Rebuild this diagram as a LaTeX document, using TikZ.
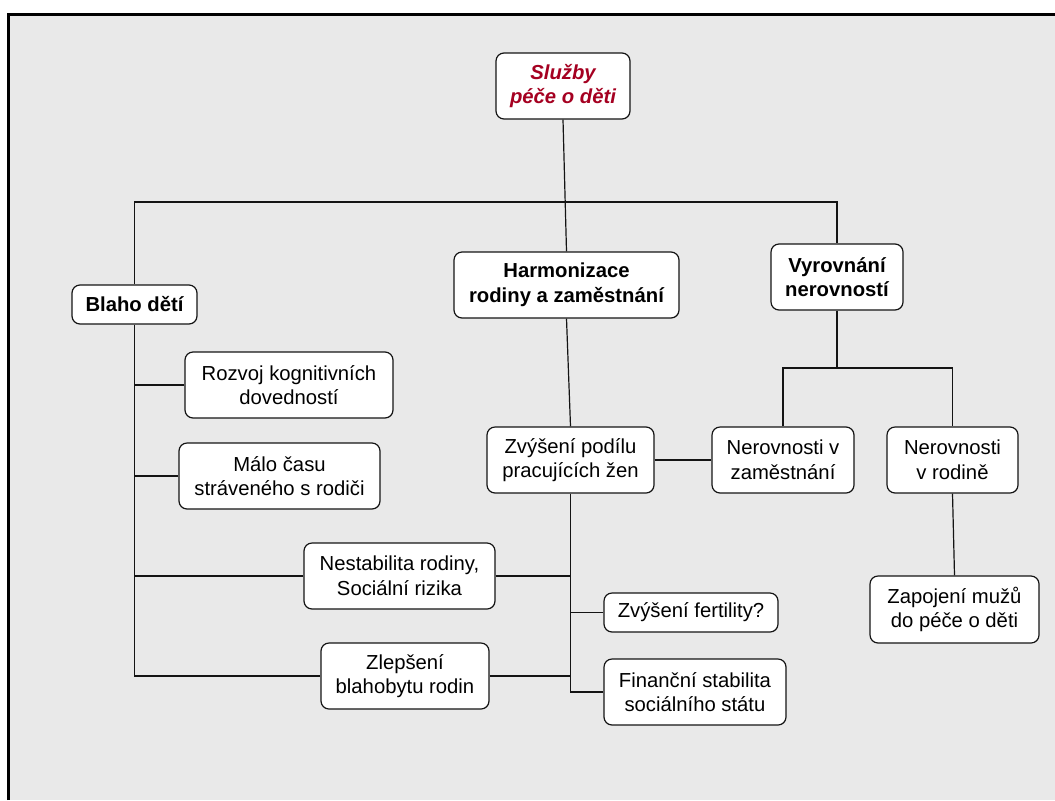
\documentclass[tikz,border=0pt]{standalone}
\usepackage{fontspec}
\setmainfont{Liberation Sans}
\definecolor{dred}{RGB}{165,0,33}
\definecolor{bggray}{RGB}{233,233,233}
\definecolor{edge}{RGB}{20,20,20}
\tikzset{
  nbox/.style 2 args={draw=edge, line width=0.9pt, fill=white, rounded corners=6pt,
    minimum width=#1*0.75pt, minimum height=#2*0.75pt, inner sep=0pt, align=center,
    font=\fontsize{15.2}{18.4}\selectfont},
  bnode/.style={font=\fontsize{15.2}{18.4}\selectfont\bfseries},
  conn/.style={draw=edge, line width=0.9pt}
}
\begin{document}
\begin{tikzpicture}[x=0.75pt,y=-0.75pt]
\useasboundingbox (0,0) rectangle (1055,800);
\fill[white] (0,0) rectangle (1055,800);
\fill[bggray] (8.3,14) rectangle (1055,800);
\draw[black, line width=2.25pt] (8.3,800) -- (8.3,14) -- (1055,14);

% nodes
\node[nbox={134}{66}, font=\fontsize{15.2}{18.4}\selectfont\bfseries\itshape, text=dred] (sluzby) at (563,86) {Služby\\péče o děti};
\node[nbox={225}{66}, bnode] (harm) at (566.5,285) {Harmonizace\\rodiny a zaměstnání};
\node[nbox={132}{66}, bnode] (vyr) at (837,277) {Vyrovnání\\nerovností};
\node[nbox={125}{39}, bnode] (blaho) at (134.5,304.5) {Blaho dětí};
\node[nbox={208}{66}] (rozvoj) at (289,385) {Rozvoj kognitivních\\dovedností};
\node[nbox={201}{66}] (malo) at (279.5,476) {Málo času\\stráveného s rodiči};
\node[nbox={191}{66}] (nest) at (399.5,576) {Nestabilita rodiny,\\Sociální rizika};
\node[nbox={168}{66}] (zlep) at (405,676) {Zlepšení\\blahobytu rodin};
\node[nbox={167}{66}] (zvys) at (570.5,460) {Zvýšení podílu\\pracujících žen};
\node[nbox={174}{39}] (fert) at (691,612.5) {Zvýšení fertility?};
\node[nbox={182}{66}] (fin) at (695,692) {Finanční stabilita\\sociálního státu};
\node[nbox={142}{66}] (zam) at (783,460) {Nerovnosti v\\zaměstnání};
\node[nbox={131}{66}] (rod) at (952.5,460) {Nerovnosti\\v rodině};
\node[nbox={169}{67}] (zapoj) at (954.5,609.5) {Zapojení mužů\\do péče o děti};

% coordinates
\coordinate (tl) at (134.5,202);
\coordinate (tr) at (837,202);
\coordinate (lb) at (134.5,676);
\coordinate (cb) at (570.5,692);
\coordinate (rb) at (837,368);

% connectors
\draw[conn] (sluzby.south) -- (harm.north);
\draw[conn] (blaho.north) -- (tl) -- (tr) -- (vyr.north);
\draw[conn] (blaho.south) -- (lb) -- (zlep.west);
\draw[conn] (rozvoj.west) -- (rozvoj.west -| lb);
\draw[conn] (malo.west) -- (malo.west -| lb);
\draw[conn] (nest.west) -- (nest.west -| lb);
\draw[conn] (harm.south) -- (zvys.north);
\draw[conn] (zvys.south) -- (cb) -- (fin.west);
\draw[conn] (nest.east) -- (nest.east -| cb);
\draw[conn] (zlep.east) -- (zlep.east -| cb);
\draw[conn] (fert.west) -- (fert.west -| cb);
\draw[conn] (zvys.east) -- (zam.west);
\draw[conn] (vyr.south) -- (rb);
\draw[conn] (zam.north) |- (rb) -| (rod.north);
\draw[conn] (rod.south) -- (zapoj.north);
\end{tikzpicture}
\end{document}
